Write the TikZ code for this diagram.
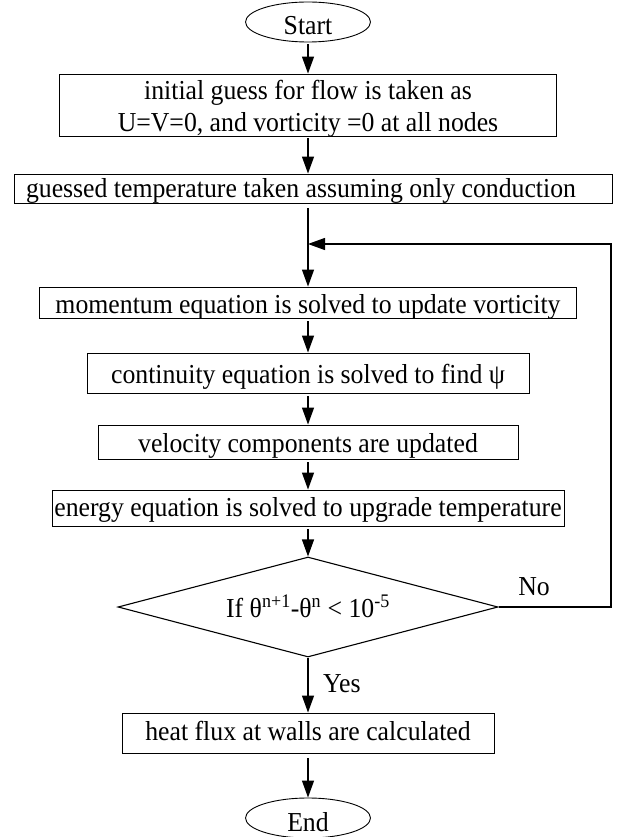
\documentclass[tikz,border=0pt]{standalone}
\usepackage{fontspec}
\setmainfont[FakeStretch=0.94]{Liberation Serif}
\usetikzlibrary{shapes.geometric,arrows.meta}
\begin{document}
\begin{tikzpicture}[x=1pt,y=-1pt,
  every node/.style={font=\fontsize{27.4}{32}\selectfont, inner sep=0pt},
  box/.style={draw, line width=0.9pt, rectangle},
  term/.style={draw, line width=0.9pt, ellipse, minimum width=125pt, minimum height=40pt},
  dec/.style={draw, line width=1.1pt, diamond, aspect=3.8, minimum width=380pt, minimum height=100pt},
  arr/.style={-{Triangle[length=17pt,width=12pt]}, line width=1.2pt},
  bl/.style={text height=#1, text depth=0pt},
]
\useasboundingbox (0,0) rectangle (619,837);
\node[term, bl=26pt] (start) at (308,22) {Start};
\node[box, minimum width=497pt, minimum height=62pt, bl=54pt] (b1) at (308,105)
  {\setlength{\tabcolsep}{0pt}\begin{tabular}[b]{c}initial guess for flow is taken as\\U=V=0, and vorticity =0 at all nodes\end{tabular}};
\node[box, minimum width=598pt, minimum height=29pt, bl=17pt] (b2) at (313,188.5)
  {\makebox[574pt][l]{guessed temperature taken assuming only conduction}};
\node[box, minimum width=537pt, minimum height=31pt, bl=21pt] (b3) at (308,302.5)
  {momentum equation is solved to update vorticity};
\node[box, minimum width=442pt, minimum height=40pt, bl=20pt] (b4) at (308,373)
  {continuity equation is solved to find ψ};
\node[box, minimum width=420pt, minimum height=34pt, bl=20pt] (b5) at (308,442)
  {velocity components are updated};
\node[box, minimum width=512pt, minimum height=36pt, bl=16pt] (b6) at (308,508)
  {energy equation is solved to upgrade temperature};
\node[dec, bl=20pt] (d) at (308,607)
  {If θ\textsuperscript{n+1}-θ\textsuperscript{n} < 10\textsuperscript{-5}};
\node[box, minimum width=372pt, minimum height=40pt, bl=14pt] (b7) at (308,733)
  {heat flux at walls are calculated};
\node[term, bl=26pt] (end) at (308,818) {End};
\node[anchor=base] (no) at (534,595) {No};
\node[anchor=base west] (yes) at (323,692) {Yes};
\coordinate (fb) at (611,244);

\draw[arr, shorten <=2pt] (start) -- (b1);
\draw[arr, shorten <=2pt] (b1.south) -- (b1.south |- b2.north);
\draw[arr, shorten <=5pt] (b3.north |- b2.south) -- (b3.north);
\draw[arr, shorten <=3pt] (b3) -- (b4);
\draw[arr, shorten <=3pt] (b4) -- (b5);
\draw[arr, shorten <=3pt] (b5) -- (b6);
\draw[arr, shorten <=3pt] (b6) -- (d);
\draw[arr] (d.south) -- (b7.north);
\draw[arr, shorten <=5pt] (b7) -- (end);
\draw[arr, line width=1.3pt] (d.east) -| (fb) -- (fb -| b3.north);
\end{tikzpicture}
\end{document}
